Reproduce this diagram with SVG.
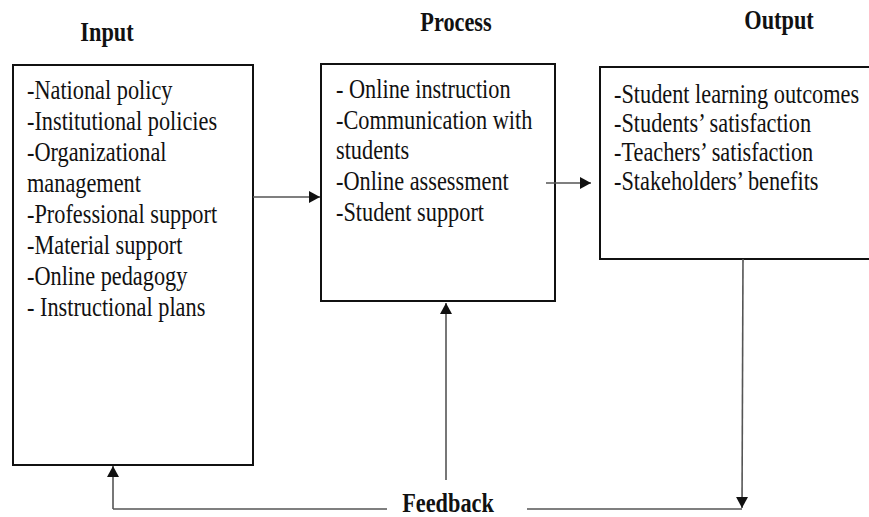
<svg xmlns="http://www.w3.org/2000/svg" width="869" height="517" viewBox="0 0 869 517">
<defs>
<style>
.box{fill:#fff;stroke:#111;stroke-width:2}
.t{font-family:"Liberation Serif","Times New Roman",serif;font-size:22.3px;fill:#111}
.h{font-family:"Liberation Serif","Times New Roman",serif;font-size:22.3px;font-weight:bold;fill:#111}
.c{fill:none;stroke:#555;stroke-width:1.6}
</style>
<marker id="ah" viewBox="0 0 11 12" refX="11" refY="6" markerWidth="11" markerHeight="12" markerUnits="userSpaceOnUse" orient="auto">
<path d="M0,0 L11,6 L0,12 z" fill="#111"/>
</marker>
</defs>
<rect width="869" height="517" fill="#fff"/>
<g id="input">
<text class="h" text-anchor="middle" transform="translate(107,41) scale(1,1.2)">Input</text>
<rect class="box" x="13" y="65" width="240" height="400"/>
<text class="t" transform="translate(27,99) scale(1,1.2)"><tspan x="0" y="0">-National policy</tspan><tspan x="0" dy="25.83">-Institutional policies</tspan><tspan x="0" dy="25.83">-Organizational</tspan><tspan x="0" dy="25.83">management</tspan><tspan x="0" dy="25.83">-Professional support</tspan><tspan x="0" dy="25.83">-Material support</tspan><tspan x="0" dy="25.83">-Online pedagogy</tspan><tspan x="0" dy="25.83">- Instructional plans</tspan></text>
</g>
<g id="process">
<text class="h" text-anchor="middle" transform="translate(456,31) scale(1,1.2)">Process</text>
<rect class="box" x="321" y="64" width="234" height="237"/>
<text class="t" transform="translate(336,98) scale(1,1.2)"><tspan x="0" y="0">- Online instruction</tspan><tspan x="0" dy="25.6">-Communication with</tspan><tspan x="0" dy="25.6">students</tspan><tspan x="0" dy="25.6">-Online assessment</tspan><tspan x="0" dy="25.6">-Student support</tspan></text>
</g>
<g id="output">
<text class="h" text-anchor="middle" transform="translate(779,29) scale(1,1.2)">Output</text>
<rect class="box" x="600" y="67" width="280" height="192"/>
<text class="t" transform="translate(614,103) scale(1,1.2)"><tspan x="0" y="0">-Student learning outcomes</tspan><tspan x="0" dy="24.17">-Students’ satisfaction</tspan><tspan x="0" dy="24.17">-Teachers’ satisfaction</tspan><tspan x="0" dy="24.17">-Stakeholders’ benefits</tspan></text>
</g>
<g id="feedback">
<text class="h" text-anchor="middle" transform="translate(448,512) scale(1,1.2)">Feedback</text>
</g>
<g id="connectors">
<line class="c" x1="253" y1="197" x2="320" y2="197" marker-end="url(#ah)"/>
<line class="c" x1="546" y1="183" x2="591" y2="183" marker-end="url(#ah)"/>
<line class="c" x1="743" y1="259" x2="742" y2="508" marker-end="url(#ah)"/>
<line class="c" x1="527" y1="509" x2="742" y2="509"/>
<line class="c" x1="387" y1="509" x2="113" y2="509"/>
<line class="c" x1="113" y1="509" x2="113" y2="466" marker-end="url(#ah)"/>
<line class="c" x1="446" y1="480" x2="446" y2="303" marker-end="url(#ah)"/>
</g>
</svg>
